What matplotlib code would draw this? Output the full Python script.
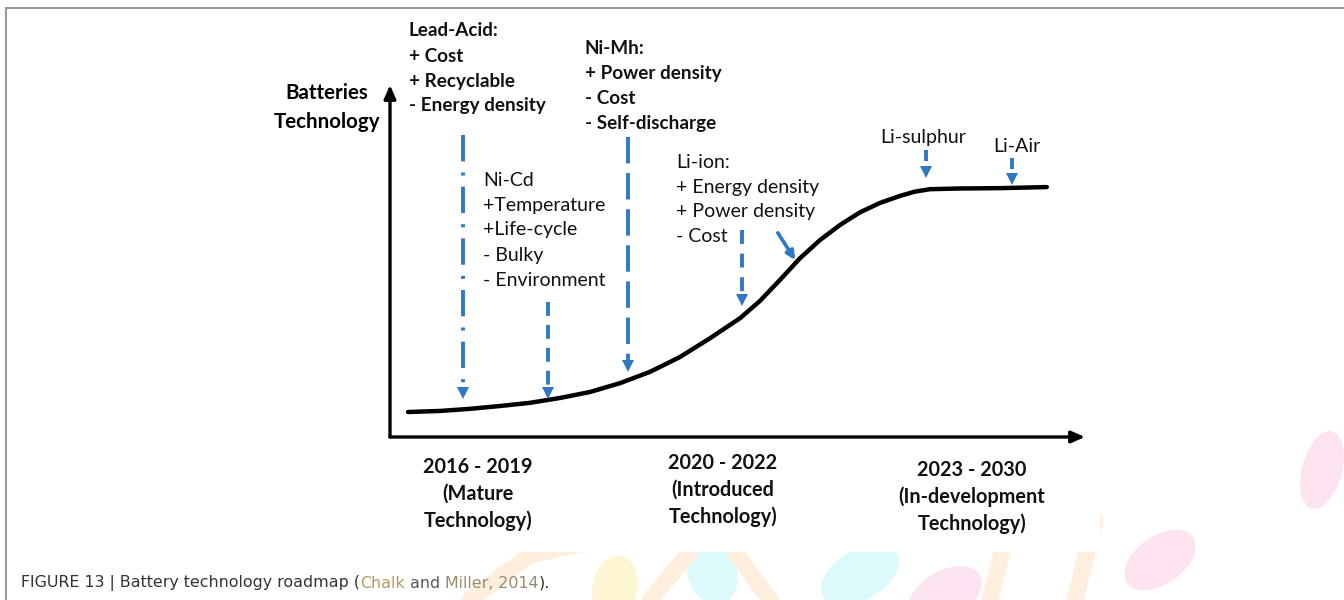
import matplotlib.pyplot as plt
import matplotlib.patches as patches

plt.rcParams['lines.scale_dashes'] = False

# technology maturity curve (time index 0-100, technology level 0-100)
curve_time = [2.6, 7.2, 11.5, 15.8, 20.1, 24.5, 28.8, 33.1, 37.4, 41.7, 46.0, 50.4,
              53.2, 56.1, 59.0, 61.9, 64.8, 67.6, 70.5, 73.4, 75.5, 77.7, 82.0, 87.8, 94.5]
curve_level = [7.1, 7.4, 8.0, 8.8, 9.7, 11.1, 12.8, 15.3, 18.5, 22.7, 28.0, 33.8,
               38.6, 44.6, 50.8, 56.0, 60.3, 63.8, 66.5, 68.5, 69.7, 70.4, 70.6, 70.7, 71.0]

# pointer arrows: time, start level, end level
arrow_names = ['Lead-Acid', 'Ni-Cd', 'Ni-Mh', 'Li-ion', 'Li-sulphur', 'Li-Air']
arrow_time = [10.5, 22.7, 34.2, 50.6, 77.1, 89.5]
arrow_top = [85.8, 38.4, 85.2, 58.8, 81.5, 79.3]
arrow_end = [11.1, 11.1, 19.0, 37.5, 73.9, 71.9]

period_labels = ['2016 - 2019\n(Mature\nTechnology)',
                 '2020 - 2022\n(Introduced\nTechnology)',
                 '2023 - 2030\n(In-development\nTechnology)']

blue = '#2f78c4'
FONT = 'Lato'
ink = '#111111'

fig = plt.figure(figsize=(13.44, 6), dpi=100)

# background layer in pixel coordinates
bg = fig.add_axes([0, 0, 1, 1])
bg.set_xlim(0, 1344)
bg.set_ylim(600, 0)
bg.axis('off')

# faint watermark (publisher logo leaves) behind the figure
blobs = [((1160, 560), 80, 48, -35, '#fde3ef'),
         ((1322, 470), 40, 80, 15, '#fde3ef'),
         ((712, 570), 50, 70, -15, '#dcf9fb'),
         ((860, 575), 85, 50, -30, '#dcf9fb'),
         ((945, 595), 80, 48, -30, '#fde3ef'),
         ((615, 588), 45, 65, 10, '#fef5d2')]
for (cx, cy), w, h, ang, col in blobs:
    bg.add_patch(patches.Ellipse((cx, cy), w, h, angle=ang, facecolor=col, edgecolor='none', zorder=0))
for x0, y0, x1, y1 in [(470, 600, 530, 555), (530, 555, 600, 540), (650, 600, 690, 552),
                       (735, 552, 770, 600), (990, 600, 1005, 540), (1075, 600, 1095, 520)]:
    bg.plot([x0, x1], [y0, y1], color='#feeedd', lw=12, solid_capstyle='round', zorder=0)
bg.add_patch(patches.Rectangle((385, 10), 715, 542, facecolor='white', edgecolor='none', zorder=0.5))

# frame
bg.plot([6, 1344], [8, 8], color='#9a9a9a', lw=1.5)
bg.plot([6, 6], [8, 600], color='#9a9a9a', lw=1.5)

# caption
parts = [('FIGURE 13 | Battery technology roadmap (', '#333333'),
         ('Chalk', '#b09a5e'), (' and ', '#555555'),
         ('Miller, 2014', '#9a8a6a'), (').', '#333333')]
txt = bg.text(21, 583, parts[0][0], color=parts[0][1], fontsize=11.4,
              family='DejaVu Sans', va='center', ha='left', zorder=3)
fig.canvas.draw()
for s, c in parts[1:]:
    txt = bg.annotate(s, xycoords=txt, xy=(1, 0), va='bottom', ha='left',
                      color=c, fontsize=11.4, family='DejaVu Sans', zorder=3)

# chart axes
ax = fig.add_axes([390 / 1344, 163 / 600, 695 / 1344, 352 / 600])
ax.set_xlim(0, 100)
ax.set_ylim(0, 100)
ax.axis('off')
ax.patch.set_alpha(0)

for tip in [(0, 1), (1, 0)]:
    ax.annotate('', xy=tip, xytext=(0, 0), xycoords='axes fraction',
                arrowprops=dict(arrowstyle='-|>,head_length=0.8,head_width=0.35', color='black',
                                lw=2.4, shrinkA=0, shrinkB=0))

ax.plot(curve_time, curve_level, color='black', lw=3.2,
        solid_capstyle='round', solid_joinstyle='round')

dash_styles = [[19, 8, 2.2, 8], [10, 6.5], [19, 7], [10, 7], [8, 20], [8, 20]]
for t, top, end, ds in zip(arrow_time, arrow_top, arrow_end, dash_styles):
    ln, = ax.plot([t, t], [top, end + 2], color=blue, lw=2.8)
    ln.set_dashes(ds)
    ax.plot([t], [end + 1.3], marker='v', color=blue, ms=8, markeredgewidth=0)

# Li-ion diagonal pointer
ax.annotate('', xy=(58.3, 50.3), xytext=(55.8, 58.0),
            arrowprops=dict(arrowstyle='-|>,head_length=0.5,head_width=0.25', color=blue, lw=2.6,
                            shrinkA=0, shrinkB=0))

# annotations
def block(x, y, lines, bold, size, step=25):
    for i, s in enumerate(lines):
        bg.text(x, y + i * step, s, fontsize=size, family=FONT,
                fontweight='bold' if bold else 'normal', va='center', ha='left', color=ink, zorder=3)

block(409, 31, ['Lead-Acid:', '+ Cost', '+ Recyclable', '- Energy density'], True, 13.6)
block(585, 48, ['Ni-Mh:', '+ Power density', '- Cost', '- Self-discharge'], True, 13.6)
block(483, 180, ['Ni-Cd', '+Temperature', '+Life-cycle', '- Bulky', '- Environment'], False, 14)
block(676, 162, ['Li-ion:', '+ Energy density', '+ Power density', '- Cost'], False, 14)
bg.text(923, 137, 'Li-sulphur', fontsize=14, family=FONT, ha='center', va='center', color=ink, zorder=3)
bg.text(1017, 146, 'Li-Air', fontsize=14, family=FONT, ha='center', va='center', color=ink, zorder=3)

bg.text(327, 93, 'Batteries', fontsize=14.8, family=FONT, fontweight='bold', ha='center', va='center')
bg.text(327, 122, 'Technology', fontsize=14.8, family=FONT, fontweight='bold', ha='center', va='center')

for (cx, cy), lab in zip([(478, 467), (723, 463), (972, 470)], period_labels):
    for i, s in enumerate(lab.split('\n')):
        bg.text(cx, cy + i * 27, s, fontsize=14.3, family=FONT, fontweight='bold',
                ha='center', va='center', color=ink, zorder=3)

fig.savefig('out.png', dpi=100)
